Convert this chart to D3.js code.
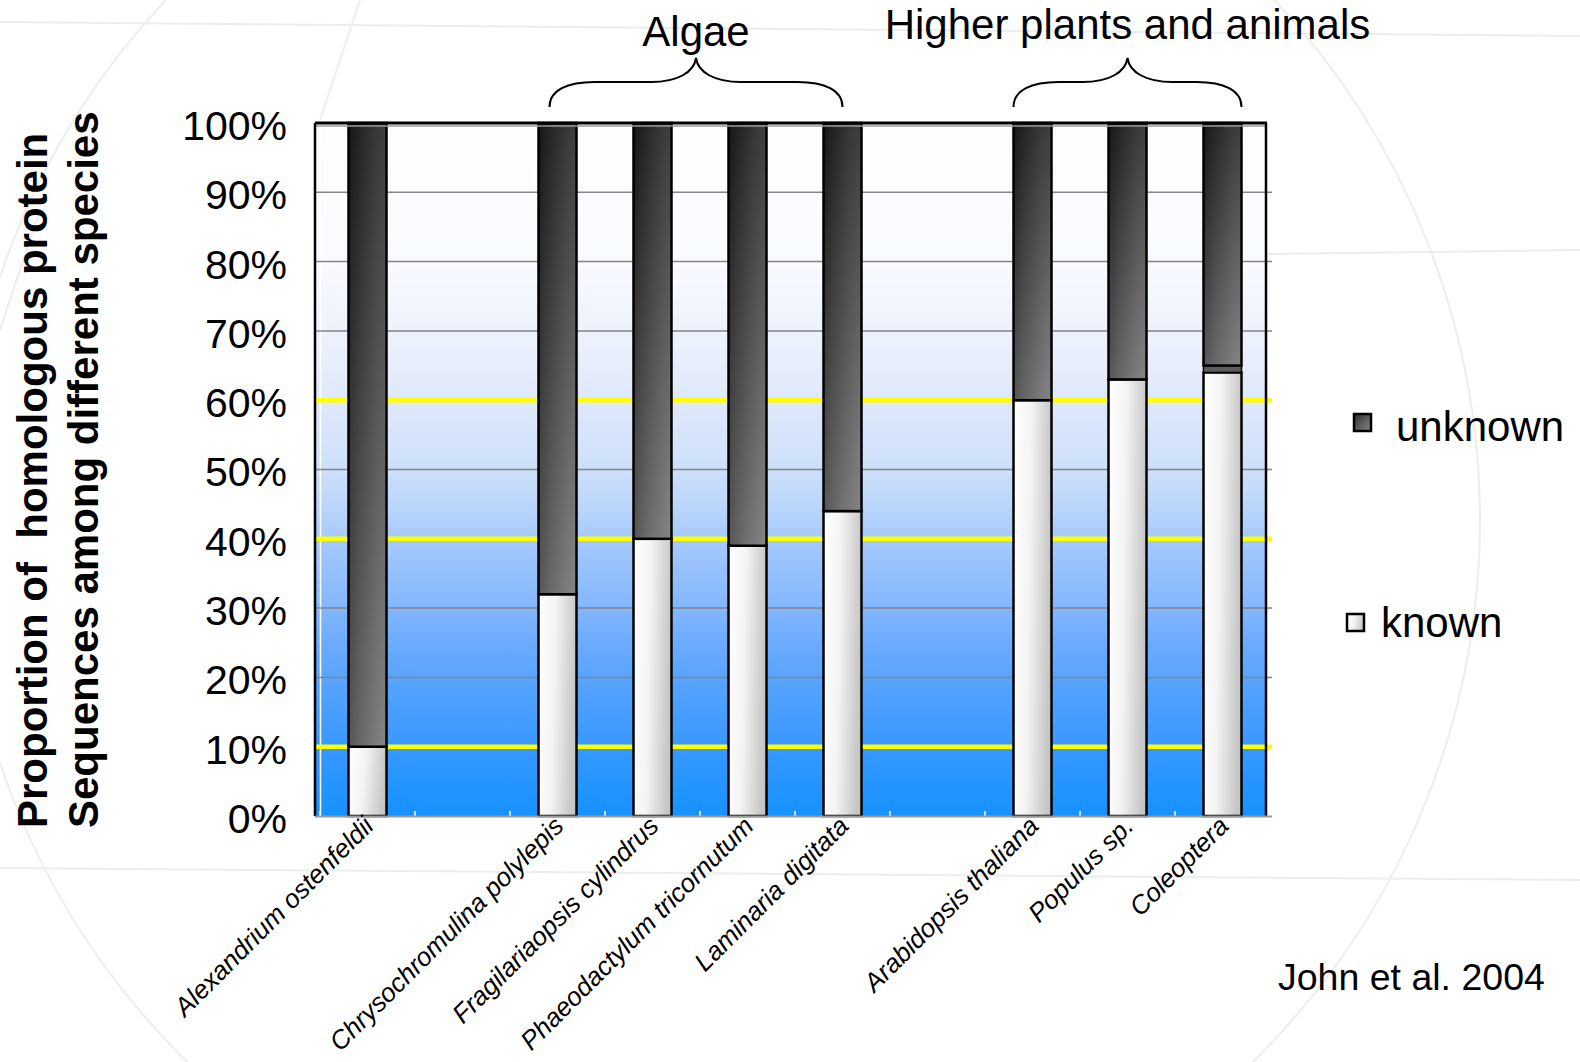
<!DOCTYPE html>
<html>
<head>
<meta charset="utf-8">
<script src="https://cdn.jsdelivr.net/npm/d3@7"></script>
<style>
  html, body { margin: 0; padding: 0; background: #ffffff; }
  svg { display: block; font-family: "Liberation Sans", Arial, Helvetica, sans-serif; }
</style>
</head>
<body>
<svg id="chart" width="1580" height="1062"></svg>
<script>
// Category slots along the x axis (null = empty spacer slot between groups)
const slots = [
  "Alexandrium ostenfeldii", null,
  "Chrysochromulina polylepis", "Fragilariaopsis cylindrus",
  "Phaeodactylum tricornutum", "Laminaria digitata", null,
  "Arabidopsis thaliana", "Populus sp.", "Coleoptera"
];
// Species shown, in slot order
const species = [
  "Alexandrium ostenfeldii", "Chrysochromulina polylepis", "Fragilariaopsis cylindrus",
  "Phaeodactylum tricornutum", "Laminaria digitata",
  "Arabidopsis thaliana", "Populus sp.", "Coleoptera"
];
// Share of sequences (%) per species
const known      = [10, 32, 40, 39, 44, 60, 63, 64];
const unassigned = [0, 0, 0, 0, 0, 0, 0, 1];
const unknown    = [90, 68, 60, 61, 56, 40, 37, 35];

const yTicks = [0, 10, 20, 30, 40, 50, 60, 70, 80, 90, 100];
const highlightLines = [10, 40, 60];

const groupNames = ["Algae", "Higher plants and animals"];
const groupFirst = ["Chrysochromulina polylepis", "Arabidopsis thaliana"];
const groupLast  = ["Laminaria digitata", "Coleoptera"];

const legendLabels = ["unknown", "known"];
const sourceNote = "John et al. 2004";
const yTitleLines = ["Proportion of  homologous protein", "Sequences among different species"];

const svg = d3.select("#chart");
const W = 1580, H = 1062;
const plot = { left: 315, right: 1266, top: 123, bottom: 816 };

const x = d3.scaleBand().domain(d3.range(slots.length)).range([320, 1270]).padding(0);
const y = d3.scaleLinear().domain([0, 100]).range([plot.bottom, plot.top]);
const barW = 38;
const cx = name => x(slots.indexOf(name)) + x.bandwidth() / 2;

const defs = svg.append("defs");

// Plot backdrop: white at the top, fading into a saturated blue at the bottom
const bg = defs.append("linearGradient").attr("id", "bgGrad")
  .attr("x1", 0).attr("y1", 0).attr("x2", 0).attr("y2", 1);
[[0, "#fdfdff"], [0.2, "#f8fbff"], [0.3, "#edf2fd"], [0.4, "#dfe9fb"], [0.5, "#cde0fa"],
 [0.55, "#bcd6fb"], [0.6, "#a6cafd"], [0.65, "#95c0fd"], [0.7, "#83b7fe"], [0.75, "#6cabfe"],
 [0.8, "#5aa4fe"], [0.9, "#3898ff"], [1, "#1692ff"]]
  .forEach(([o, c]) => bg.append("stop").attr("offset", o).attr("stop-color", c));

// Unknown segments: black at the top to mid grey at the bottom
const gU = defs.append("linearGradient").attr("id", "unkV")
  .attr("x1", 0).attr("y1", 0).attr("x2", 0).attr("y2", 1);
gU.append("stop").attr("offset", 0).attr("stop-color", "#1a1a1a");
gU.append("stop").attr("offset", 1).attr("stop-color", "#6e6e6e");
// Side shading laid over the dark segments
const gS = defs.append("linearGradient").attr("id", "sideShade")
  .attr("x1", 0).attr("y1", 0).attr("x2", 1).attr("y2", 0);
gS.append("stop").attr("offset", 0).attr("stop-color", "#000").attr("stop-opacity", 0.22);
gS.append("stop").attr("offset", 1).attr("stop-color", "#fff").attr("stop-opacity", 0.16);
// Known segments: white to light grey
const gK = defs.append("linearGradient").attr("id", "knownGrad")
  .attr("x1", 0).attr("y1", 0).attr("x2", 1).attr("y2", 0.15);
gK.append("stop").attr("offset", 0).attr("stop-color", "#ffffff");
gK.append("stop").attr("offset", 0.45).attr("stop-color", "#f4f4f4");
gK.append("stop").attr("offset", 1).attr("stop-color", "#c6c6c6");
// Legend swatch for unknown
const gL = defs.append("linearGradient").attr("id", "legUnk")
  .attr("x1", 0).attr("y1", 0).attr("x2", 1).attr("y2", 1);
gL.append("stop").attr("offset", 0).attr("stop-color", "#2a2a2a");
gL.append("stop").attr("offset", 1).attr("stop-color", "#8a8a8a");

// Faint slide decoration behind everything
const deco = svg.append("g").attr("fill", "none").attr("stroke", "#ededed").attr("stroke-width", 2);
deco.append("circle").attr("cx", 720).attr("cy", 520).attr("r", 760);
deco.append("line").attr("x1", 0).attr("y1", 22).attr("x2", W).attr("y2", 36);
deco.append("line").attr("x1", 1266).attr("y1", 254).attr("x2", W).attr("y2", 250);
deco.append("line").attr("x1", 0).attr("y1", 868).attr("x2", W).attr("y2", 880);
deco.append("line").attr("x1", 360).attr("y1", 0).attr("x2", 320).attr("y2", 120);
deco.append("line").attr("x1", 0).attr("y1", 330).attr("x2", 40).attr("y2", 210);

// Plot area background
svg.append("rect")
  .attr("x", plot.left).attr("y", plot.top)
  .attr("width", plot.right - plot.left).attr("height", plot.bottom - plot.top)
  .attr("fill", "url(#bgGrad)");

// Thin white inner wall edge and band ticks
svg.append("line").attr("x1", 320.5).attr("x2", 320.5).attr("y1", plot.top).attr("y2", plot.bottom)
  .attr("stroke", "#ffffff").attr("stroke-width", 1.5);
svg.append("g").selectAll("line").data(d3.range(slots.length + 1)).join("line")
  .attr("x1", i => 320 + i * x.bandwidth()).attr("x2", i => 320 + i * x.bandwidth())
  .attr("y1", plot.bottom - 5).attr("y2", plot.bottom + 1)
  .attr("stroke", "#ffffff").attr("stroke-width", 1.5);

// Gridlines
svg.append("g").selectAll("line").data(yTicks.slice(1, -1)).join("line")
  .attr("x1", plot.left).attr("x2", plot.right + 6)
  .attr("y1", d => y(d)).attr("y2", d => y(d))
  .attr("stroke", "#858585").attr("stroke-width", 1.5);
svg.append("g").selectAll("line").data(highlightLines).join("line")
  .attr("x1", plot.left).attr("x2", plot.right + 6)
  .attr("y1", d => y(d)).attr("y2", d => y(d))
  .attr("stroke", "#ffff00").attr("stroke-width", 4.5);

// Stacked bars
const rows = species.map((s, i) => ({ s, k: known[i], e: unassigned[i], u: unknown[i] }));
const bars = svg.append("g").selectAll("g").data(rows).join("g");
bars.append("rect").attr("class", "known")
  .attr("x", d => cx(d.s) - barW / 2).attr("width", barW)
  .attr("y", d => y(d.k)).attr("height", d => y(0) - y(d.k))
  .attr("fill", "url(#knownGrad)").attr("stroke", "#000").attr("stroke-width", 2.5);
bars.filter(d => d.e > 0).append("rect")
  .attr("x", d => cx(d.s) - barW / 2).attr("width", barW)
  .attr("y", d => y(d.k + d.e)).attr("height", d => y(d.k) - y(d.k + d.e))
  .attr("fill", "#5c5c5c").attr("stroke", "#000").attr("stroke-width", 1.5);
bars.append("rect")
  .attr("x", d => cx(d.s) - barW / 2).attr("width", barW)
  .attr("y", d => y(d.k + d.e + d.u)).attr("height", d => y(d.k + d.e) - y(d.k + d.e + d.u))
  .attr("fill", "url(#unkV)");
bars.append("rect")
  .attr("x", d => cx(d.s) - barW / 2).attr("width", barW)
  .attr("y", d => y(d.k + d.e + d.u)).attr("height", d => y(d.k + d.e) - y(d.k + d.e + d.u))
  .attr("fill", "url(#sideShade)").attr("stroke", "#000").attr("stroke-width", 2.5);

// Frame
svg.append("line").attr("x1", plot.left).attr("x2", plot.right + 1).attr("y1", plot.top).attr("y2", plot.top)
  .attr("stroke", "#000").attr("stroke-width", 3);
svg.append("line").attr("x1", plot.left).attr("x2", plot.right).attr("y1", plot.top + 3).attr("y2", plot.top + 3)
  .attr("stroke", "#9a9a9a").attr("stroke-width", 1.5);
svg.append("line").attr("x1", plot.left).attr("x2", plot.left).attr("y1", plot.top).attr("y2", plot.bottom)
  .attr("stroke", "#000").attr("stroke-width", 2.5);
svg.append("line").attr("x1", plot.right).attr("x2", plot.right).attr("y1", plot.top).attr("y2", plot.bottom)
  .attr("stroke", "#000").attr("stroke-width", 2.5);
svg.append("line").attr("x1", plot.left).attr("x2", plot.right + 6).attr("y1", plot.bottom + 0.5).attr("y2", plot.bottom + 0.5)
  .attr("stroke", "#9a9a9a").attr("stroke-width", 2);

// Y axis labels
const yAxis = svg.append("g").attr("transform", "translate(287,0)")
  .call(d3.axisLeft(y).tickValues(yTicks).tickSize(0).tickPadding(0).tickFormat(d => d + "%"));
yAxis.select(".domain").remove();
yAxis.selectAll("text").attr("font-size", 41).attr("fill", "#000").attr("dy", "0.4em")
  .attr("font-family", "'Liberation Sans', Arial, sans-serif");

// X axis labels (rotated)
svg.append("g").selectAll("text").data(species).join("text")
  .attr("transform", d => `translate(${cx(d) - 8},${plot.bottom - 4}) rotate(-45)`)
  .attr("text-anchor", "end").attr("dy", "0.85em")
  .attr("font-size", 26).attr("font-style", "italic").attr("fill", "#000")
  .text(d => d);

// Y axis title
const yTitle = svg.append("g");
yTitle.selectAll("text").data(yTitleLines).join("text")
  .attr("transform", (d, i) => `translate(${i === 0 ? 47 : 98},828) rotate(-90)`)
  .attr("font-size", 42).attr("font-weight", "bold").attr("fill", "#000")
  .style("white-space", "pre").attr("xml:space", "preserve")
  .text(d => d);

// Group braces and titles
const braceSpan = [[-8, 0], [-19, 19]];
groupNames.forEach((g, i) => {
  const x0 = cx(groupFirst[i]) + braceSpan[i][0];
  const x1 = cx(groupLast[i]) + braceSpan[i][1];
  const xm = (x0 + x1) / 2;
  const yb = 107, yh = 82, yt = 58;
  const p = d3.path();
  p.moveTo(x0, yb);
  p.bezierCurveTo(x0, yh + 8, x0 + 18, yh, x0 + 45, yh);
  p.lineTo(xm - 45, yh);
  p.bezierCurveTo(xm - 18, yh, xm - 2, yh - 10, xm, yt);
  p.bezierCurveTo(xm + 2, yh - 10, xm + 18, yh, xm + 45, yh);
  p.lineTo(x1 - 45, yh);
  p.bezierCurveTo(x1 - 18, yh, x1, yh + 8, x1, yb);
  svg.append("path").attr("d", p.toString()).attr("fill", "none")
    .attr("stroke", "#000").attr("stroke-width", 2);
  svg.append("text").attr("x", xm).attr("y", i === 0 ? 45.5 : 38.5)
    .attr("text-anchor", "middle").attr("font-size", 42).attr("fill", "#000").text(g);
});

// Legend
const legend = svg.append("g");
legend.append("rect").attr("x", 1354).attr("y", 414).attr("width", 17).attr("height", 17)
  .attr("fill", "url(#legUnk)").attr("stroke", "#000").attr("stroke-width", 2.5);
legend.append("text").attr("x", 1396).attr("y", 441).attr("font-size", 42).text(legendLabels[0]);
legend.append("rect").attr("x", 1347).attr("y", 614).attr("width", 17).attr("height", 17)
  .attr("fill", "url(#knownGrad)").attr("stroke", "#000").attr("stroke-width", 2.5);
legend.append("text").attr("x", 1381).attr("y", 637).attr("font-size", 42).text(legendLabels[1]);

// Source note
svg.append("text").attr("x", 1278).attr("y", 990)
  .attr("font-size", 37.5).attr("fill", "#000").text(sourceNote);
</script>
</body>
</html>
